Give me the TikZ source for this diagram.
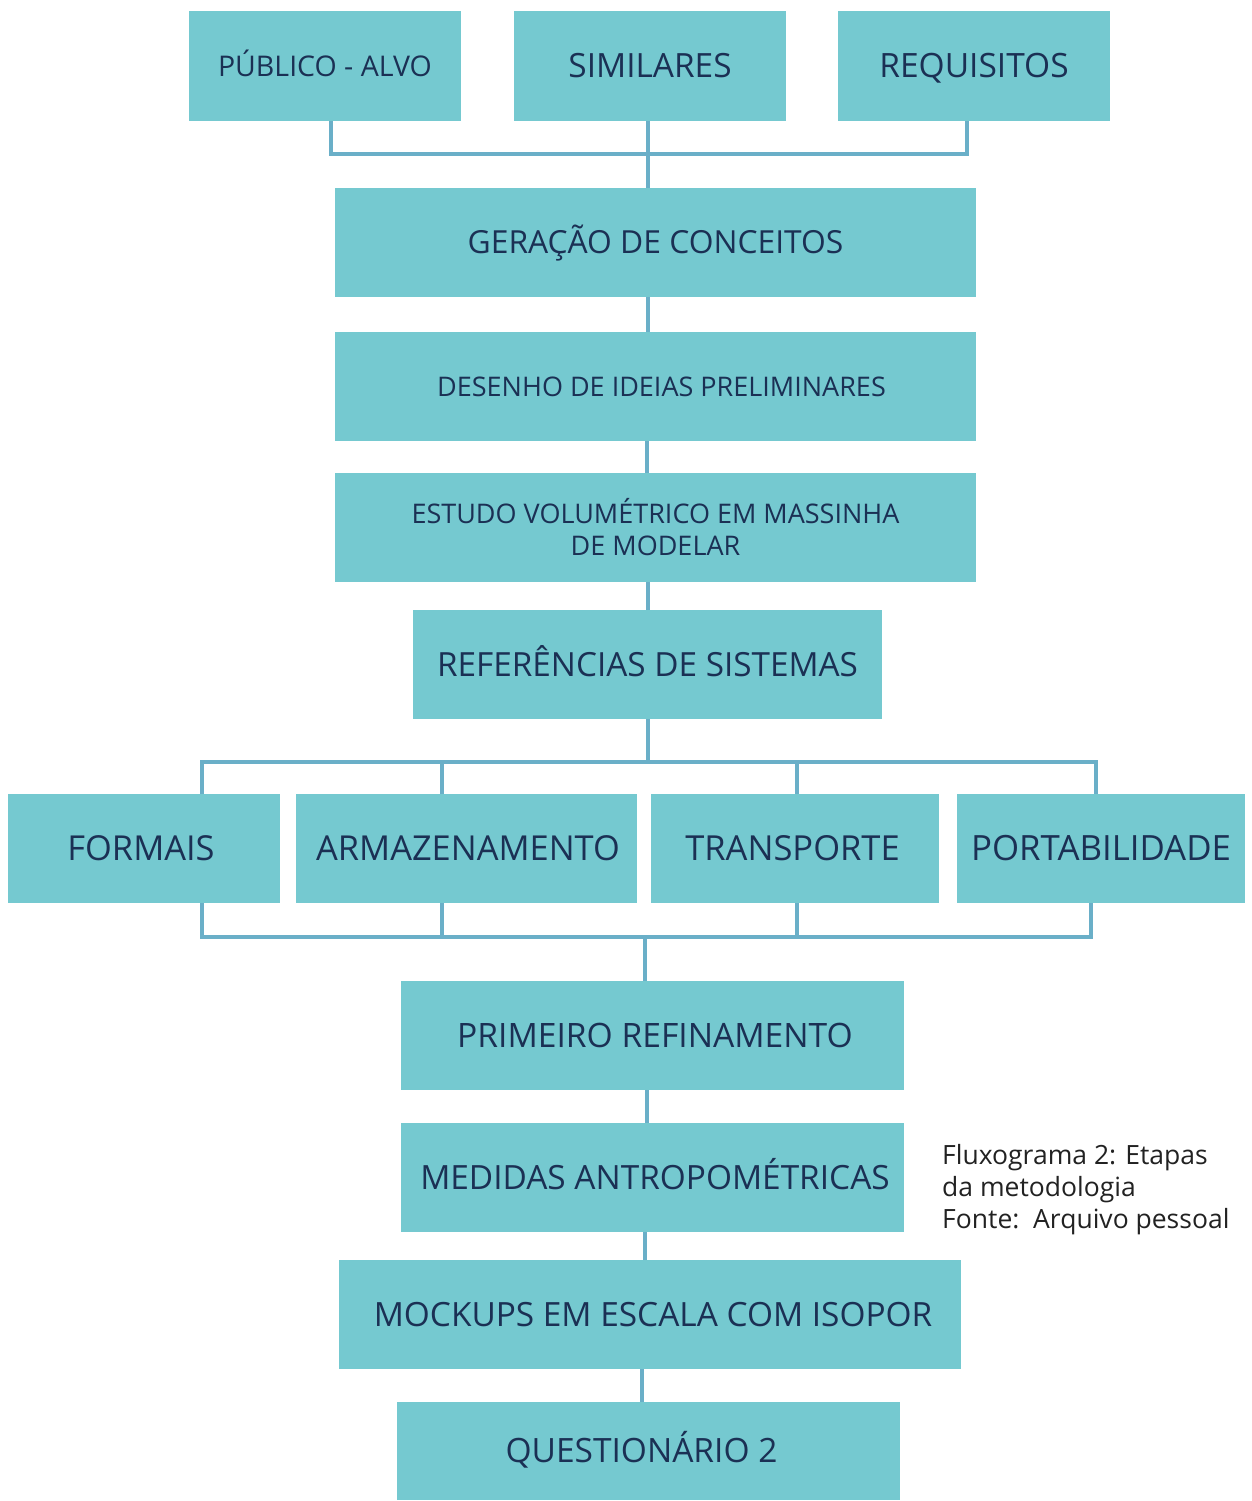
\documentclass[tikz,border=0pt]{standalone}
\usepackage{fontspec}
\setmainfont{Open Sans}
\usetikzlibrary{calc}
\definecolor{boxfill}{HTML}{75C9D0}
\definecolor{linecol}{HTML}{6AAFC8}
\definecolor{txtcol}{HTML}{1B3054}
\definecolor{capcol}{HTML}{222222}
\newcommand{\fs}[1]{\fontsize{#1}{#1}\selectfont}
\tikzset{
  box/.style={fill=boxfill, draw=none, inner sep=0pt, text=txtcol, align=center},
  fsz/.style={font=\fs{#1}, text height={0.714*#1}, text depth=0pt},
  conn/.style={draw=linecol, line width=4pt},
}
\begin{document}
\begin{tikzpicture}[x=1pt,y=-1pt]
\useasboundingbox (0,0) rectangle (1252,1501);
% top row
\node[box, minimum width=272, minimum height=110, fsz=28.5] (pub) at (325,66) {PÚBLICO - ALVO};
\node[box, minimum width=272, minimum height=110, fsz=33.4] (sim) at (650,66) {SIMILARES};
\node[box, minimum width=272, minimum height=110, fsz=33.5] (req) at (974,66) {REQUISITOS};
% column
\node[box, minimum width=641, minimum height=109, fsz=31.8] (ger) at (655.5,242.5) {GERAÇÃO DE CONCEITOS};
\node[box, minimum width=641, minimum height=109, fsz=27] (des) at (655.5,386.5) {\hspace*{12pt}DESENHO DE IDEIAS PRELIMINARES};
\node[box, minimum width=641, minimum height=109, font=\fontsize{27}{32}\selectfont] (est) at (655.5,527.5) {ESTUDO VOLUMÉTRICO EM MASSINHA\\DE MODELAR};
\node[box, minimum width=469, minimum height=109, fsz=33.3] (ref) at (647.5,664.5) {REFERÊNCIAS DE SISTEMAS};
% second row
\node[box, minimum width=272, minimum height=109, fsz=34.4] (frm) at (144,848.5) {FORMAIS\hspace*{6pt}};
\node[box, minimum width=341, minimum height=109, fsz=34.4] (arm) at (466.5,848.5) {\hspace*{3pt}ARMAZENAMENTO};
\node[box, minimum width=288, minimum height=109, fsz=34.5] (tra) at (795,848.5) {TRANSPORTE\hspace*{5pt}};
\node[box, minimum width=288, minimum height=109, fsz=34.8] (por) at (1101,848.5) {PORTABILIDADE};
% lower column
\node[box, minimum width=503, minimum height=109, fsz=33.6] (pri) at (652.5,1035.5) {\hspace*{5pt}PRIMEIRO REFINAMENTO};
\node[box, minimum width=503, minimum height=109, fsz=33.4] (med) at (652.5,1177.5) {\hspace*{5pt}MEDIDAS ANTROPOMÉTRICAS};
\node[box, minimum width=622, minimum height=109, fsz=33.4] (moc) at (650,1314.5) {\hspace*{6pt}MOCKUPS EM ESCALA COM ISOPOR};
\node[box, minimum width=503, minimum height=98, fsz=33.5] (que) at (648.5,1451) {QUESTIONÁRIO 2\hspace*{14pt}};
% caption
\node[anchor=north west, align=left, inner sep=0pt, text=capcol, font=\fontsize{26.5}{32}\selectfont] (cap) at (942,1144) {Fluxograma 2: Etapas\\da metodologia\\Fonte:\ \ Arquivo pessoal};
% connectors top
\coordinate (j1) at (648,154);
\coordinate (p1) at (331,154);
\coordinate (r1) at (967,154);
\draw[conn] (p1 |- pub.south) -- (p1) -- (r1) -- (r1 |- req.south);
\draw[conn] (j1 |- sim.south) -- (j1 |- ger.north);
\draw[conn] (j1 |- ger.south) -- (j1 |- des.north);
\coordinate (c2) at (647,0);
\draw[conn] (c2 |- des.south) -- (c2 |- est.north);
\draw[conn] (j1 |- est.south) -- (j1 |- ref.north);
% fan out
\coordinate (j2) at (648,762);
\coordinate (a1) at (202,762);
\coordinate (a2) at (442,762);
\coordinate (a3) at (797,762);
\coordinate (a4) at (1096,762);
\draw[conn] (j2 |- ref.south) -- (j2);
\draw[conn] (a1 |- frm.north) -- (a1) -- (a4) -- (a4 |- por.north);
\draw[conn] (a2) -- (a2 |- arm.north);
\draw[conn] (a3) -- (a3 |- tra.north);
% fan in
\coordinate (b1) at (202,937);
\coordinate (b2) at (442,937);
\coordinate (b3) at (797,937);
\coordinate (b4) at (1091,937);
\coordinate (j3) at (645,937);
\draw[conn] (b1 |- frm.south) -- (b1) -- (b4) -- (b4 |- por.south);
\draw[conn] (b2 |- arm.south) -- (b2);
\draw[conn] (b3 |- tra.south) -- (b3);
\draw[conn] (j3) -- (j3 |- pri.north);
% lower
\coordinate (c4) at (647,0);
\draw[conn] (c4 |- pri.south) -- (c4 |- med.north);
\coordinate (c5) at (645,0);
\draw[conn] (c5 |- med.south) -- (c5 |- moc.north);
\coordinate (c6) at (642,0);
\draw[conn] (c6 |- moc.south) -- (c6 |- que.north);
\end{tikzpicture}
\end{document}
